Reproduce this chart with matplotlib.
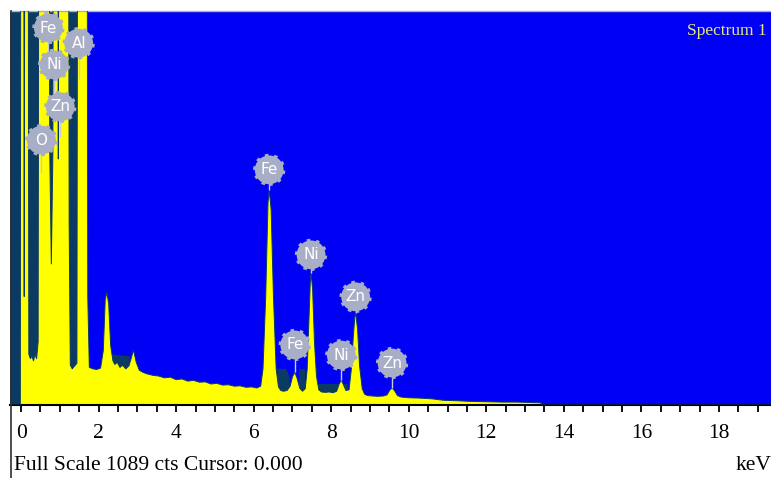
import matplotlib
matplotlib.use("Agg")
import matplotlib.pyplot as plt
from matplotlib.lines import Line2D

# ---------------- spectrum (keV, counts) ----------------
energy_kev = [-0.29, -0.02, 0.00, 0.06, 0.08, 0.11, 0.17, 0.20, 0.24, 0.28,
              0.32, 0.36, 0.40, 0.44, 0.47, 0.52, 0.70, 0.74, 0.78, 0.82,
              0.84, 0.93, 0.96, 0.99, 1.21, 1.24, 1.27, 1.32, 1.38, 1.44,
              1.47, 1.69, 1.72, 1.76, 1.85, 1.95, 2.05, 2.12, 2.17, 2.21,
              2.26, 2.31, 2.37, 2.42, 2.48, 2.55, 2.62, 2.70, 2.78, 2.83,
              2.90, 2.97, 3.05, 3.15, 3.25, 3.40, 3.55, 3.70, 3.85, 4.00,
              4.15, 4.30, 4.45, 4.60, 4.75, 4.90, 5.05, 5.20, 5.35, 5.50,
              5.65, 5.80, 5.95, 6.08, 6.18, 6.24, 6.31, 6.37, 6.40, 6.45,
              6.51, 6.58, 6.64, 6.70, 6.77, 6.86, 6.94, 7.00, 7.06, 7.12,
              7.19, 7.26, 7.33, 7.38, 7.43, 7.46, 7.48, 7.52, 7.57, 7.62,
              7.68, 7.75, 7.85, 7.95, 8.05, 8.14, 8.20, 8.26, 8.32, 8.38,
              8.46, 8.52, 8.57, 8.61, 8.63, 8.68, 8.73, 8.80, 8.86, 8.94,
              9.05, 9.20, 9.35, 9.44, 9.51, 9.57, 9.63, 9.71, 9.80, 10.0,
              10.3, 10.6, 10.9, 11.2, 11.6, 12.0, 12.4, 12.8, 13.1, 13.4,
              13.45, 19.6]
counts = [0, 0, 2500, 2500, 300, 2500, 2500, 140, 128, 135,
          122, 140, 128, 175, 2500, 2500, 2500, 700, 390, 700,
          2500, 2500, 680, 2500, 2500, 500, 110, 100, 108, 115,
          2500, 2500, 300, 104, 100, 98, 102, 150, 290, 312,
          280, 165, 122, 112, 118, 104, 110, 100, 108, 125,
          152, 118, 96, 90, 86, 82, 80, 75, 77, 70,
          72, 66, 68, 63, 64, 58, 60, 55, 56, 52,
          53, 49, 50, 47, 52, 100, 300, 560, 594, 540,
          300, 100, 50, 40, 38, 40, 52, 78, 91, 74,
          46, 38, 45, 100, 250, 340, 365, 320, 170, 80,
          42, 36, 35, 36, 34, 38, 57, 69, 55, 40,
          42, 100, 190, 245, 254, 210, 110, 45, 30, 26,
          25, 24, 25, 28, 41, 47, 40, 26, 22, 20,
          19, 17, 13, 12, 10, 9, 8, 8, 7, 6,
          0, 0]

# darker overlay spectrum in the valleys
dark_kev = [-0.29, 1.71, 1.73, 2.31, 2.33, 2.80, 2.83, 6.58, 6.61, 6.84,
            6.92, 6.96, 7.15, 7.18, 7.33, 7.36, 7.63, 7.66, 8.42, 8.46]
dark_counts = [2000, 2000, 0, 0, 140, 135, 0, 0, 100, 100,
               80, 0, 0, 100, 100, 0, 0, 58, 58, 0]

# element markers
label_el = ["O", "Fe", "Ni", "Zn", "Al", "Fe", "Ni", "Zn", "Fe", "Ni", "Zn"]
label_kev = [0.525, 0.705, 0.851, 1.012, 1.486, 6.40, 7.48, 8.63, 7.06, 8.26, 9.57]
label_cts = [732, 1042, 940, 824, 1000, 650, 415, 299, 166, 138, 116]
stem_end = [640, 960, 860, 740, 900, 594, 365, 254, 91, 69, 47]

full_scale = 1089

blue = "#0000f5"
navy = "#0b3a63"
yellow = "#ffff00"
badge = "#a8aec6"

fig = plt.figure(figsize=(7.71, 4.78), dpi=100)
ax = fig.add_axes([10 / 771, 1 - 405 / 478, 1.02, 394 / 478])
ax.set_facecolor(blue)

ax.fill_between(dark_kev, dark_counts, color=navy, lw=0, zorder=1)
ax.fill_between(energy_kev, counts, color=yellow, lw=0, zorder=2)
ax.plot(energy_kev, counts, color=navy, lw=0.7, zorder=3)

ax.vlines(label_kev, stem_end, label_cts, color="#c8ccd8", lw=1.0, zorder=4)
ax.scatter(label_kev, label_cts, s=430, c=badge, edgecolors=badge,
           linewidths=2.5, linestyles=":", zorder=5)
for el, e, c in zip(label_el, label_kev, label_cts):
    ax.text(e, c, el, color="white", fontsize=11, ha="center", va="center",
            family="DejaVu Sans", zorder=6)

ax.set_xlim(-0.286, 20.0)
ax.set_ylim(0, full_scale)

ax.set_yticks([])
ax.set_xticks(range(0, 20, 2))
ax.set_xticks([i * 0.5 for i in range(0, 40)], minor=True)
ax.tick_params(axis="x", which="both", direction="out", length=5, width=1.3,
               color="black")
ax.tick_params(axis="x", which="major", pad=9, labelsize=15.5)
for lab in ax.get_xticklabels():
    lab.set_family("Liberation Serif")

for s in ["left", "right"]:
    ax.spines[s].set_visible(False)
ax.spines["top"].set_color("#b0b0b0")
ax.spines["top"].set_linewidth(1.0)
ax.spines["bottom"].set_color("black")
ax.spines["bottom"].set_linewidth(1.5)

fig.text(767 / 771, 1 - 31 / 478, "Spectrum 1", color="#e8e880",
         fontsize=12.5, family="Liberation Serif", ha="right", va="center",
         zorder=7)

# left frame line running down through the footer
fig.add_artist(Line2D([10.5 / 771, 10.5 / 771], [0, 1 - 11 / 478],
                      color="#303030", lw=1.2))

fig.text(14 / 771, 1 - 466 / 478, "Full Scale 1089 cts Cursor: 0.000",
         family="Liberation Serif", fontsize=15.5, ha="left", va="center")
fig.text(771 / 771, 1 - 466 / 478, "keV", family="Liberation Serif",
         fontsize=15.5, ha="right", va="center")

fig.savefig("out.png", dpi=100)
